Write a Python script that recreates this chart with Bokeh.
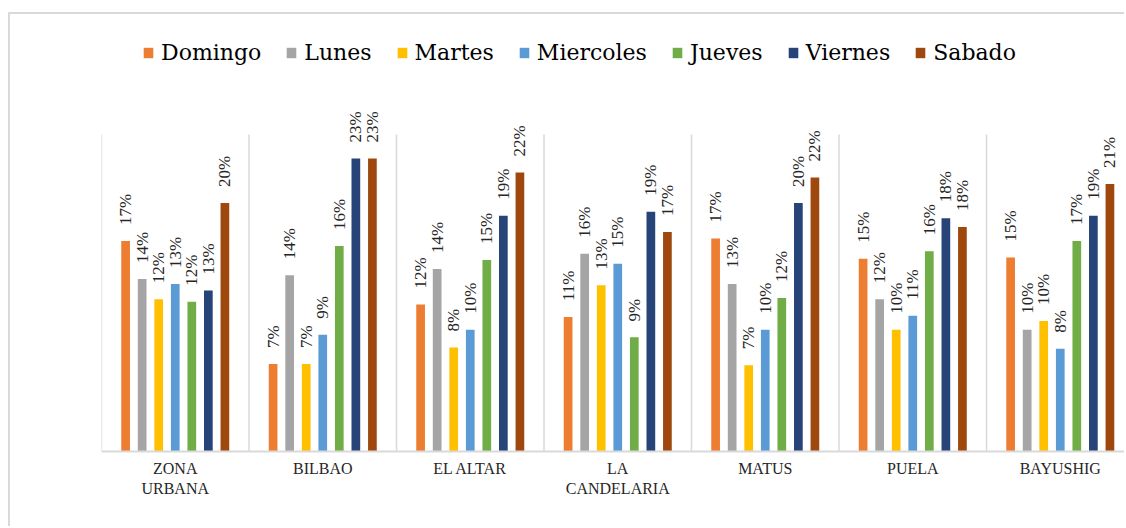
from math import pi

from bokeh.embed import file_html
from bokeh.models import (ColumnDataSource, FixedTicker, LabelSet, Legend,
                          LegendItem, Range1d)
from bokeh.plotting import figure
from bokeh.resources import INLINE

# Parroquias (categories on the x axis)
zonas = ["ZONA\nURBANA", "BILBAO", "EL ALTAR", "LA\nCANDELARIA", "MATUS", "PUELA", "BAYUSHIG"]

# Days of the week (one bar series each)
dias = ["Domingo", "Lunes", "Martes", "Miercoles", "Jueves", "Viernes", "Sabado"]
colores = ["#ED7D31", "#A5A5A5", "#FFC000", "#5B9BD5", "#70AD47", "#264478", "#9E480E"]

# Share of each day per parroquia, in percent
domingo = [16.6, 6.9, 11.6, 10.6, 16.8, 15.2, 15.3]
lunes = [13.6, 13.9, 14.4, 15.6, 13.2, 12.0, 9.6]
martes = [12.0, 6.9, 8.2, 13.1, 6.8, 9.6, 10.3]
miercoles = [13.2, 9.2, 9.6, 14.8, 9.6, 10.7, 8.1]
jueves = [11.8, 16.2, 15.1, 9.0, 12.1, 15.8, 16.6]
viernes = [12.7, 23.1, 18.6, 18.9, 19.6, 18.4, 18.6]
sabado = [19.6, 23.1, 22.0, 17.3, 21.6, 17.7, 21.1]

series = [domingo, lunes, martes, miercoles, jueves, viernes, sabado]

AXIS_FONT = "Liberation Serif"
TEXT_FONT = "DejaVu Serif"
Y_MAX = 25            # top of the value axis, percent
PITCH = 0.1122        # distance between bars of one group, in category units
BAR_W = 0.059         # bar width, in category units

p = figure(
    width=1116,
    height=514,
    x_range=Range1d(0, 6.949),
    y_range=Range1d(0, 34.46),
    y_axis_location=None,
    output_backend="svg",
    toolbar_location=None,
    min_border_left=91,
    min_border_right=0,
    min_border_top=0,
    min_border_bottom=77,
    background_fill_color="white",
    border_fill_color="white",
    outline_line_color=None,
)
p.styles = {
    "margin-left": "8px",
    "margin-top": "12px",
    "border-left": "2px solid #d9d9d9",
    "border-top": "2px solid #d9d9d9",
}
p.grid.visible = False

# vertical separators between parroquias
bordes = list(range(len(zonas) + 1))
p.segment(x0=bordes, y0=[0] * len(bordes), x1=bordes, y1=[Y_MAX] * len(bordes),
          line_color="#d9d9d9", line_width=1.5)

items = []
for j, (dia, vals, color) in enumerate(zip(dias, series, colores)):
    xs = [i + 0.5 + (j - 3) * PITCH for i in range(len(zonas))]
    src = ColumnDataSource(dict(
        x=xs,
        top=vals,
        label=[f"{v:.0f}%" for v in vals],
    ))
    r = p.vbar(x="x", top="top", width=BAR_W, source=src,
               fill_color=color, line_color=None)
    p.add_layout(LabelSet(
        x="x", y="top", text="label", source=src,
        angle=pi / 2, text_align="left", text_baseline="middle",
        y_offset=16, text_font=TEXT_FONT,
        text_font_size="17px", text_color="#262626",
    ))
    items.append(LegendItem(label=dia, renderers=[r]))

legend = Legend(
    items=items,
    orientation="horizontal",
    location=(41, 386),
    padding=0,
    margin=0,
    spacing=24,
    label_standoff=7,
    glyph_width=12,
    glyph_height=13,
    label_text_font=TEXT_FONT,
    label_text_font_size="22px",
    label_text_color="#000000",
    border_line_color=None,
    background_fill_alpha=0,
)
p.add_layout(legend, "center")

ax = p.xaxis[0]
ax.ticker = FixedTicker(ticks=[i + 0.5 for i in range(len(zonas))])
ax.major_label_overrides = {i + 0.5: z for i, z in enumerate(zonas)}
ax.axis_line_color = "#d9d9d9"
ax.axis_line_width = 2
ax.major_tick_line_color = None
ax.minor_tick_line_color = None
ax.major_label_standoff = 2
ax.major_label_text_font = AXIS_FONT
ax.major_label_text_font_size = "16px"
ax.major_label_text_color = "#262626"

open("out.html", "w").write(file_html(p, INLINE))
